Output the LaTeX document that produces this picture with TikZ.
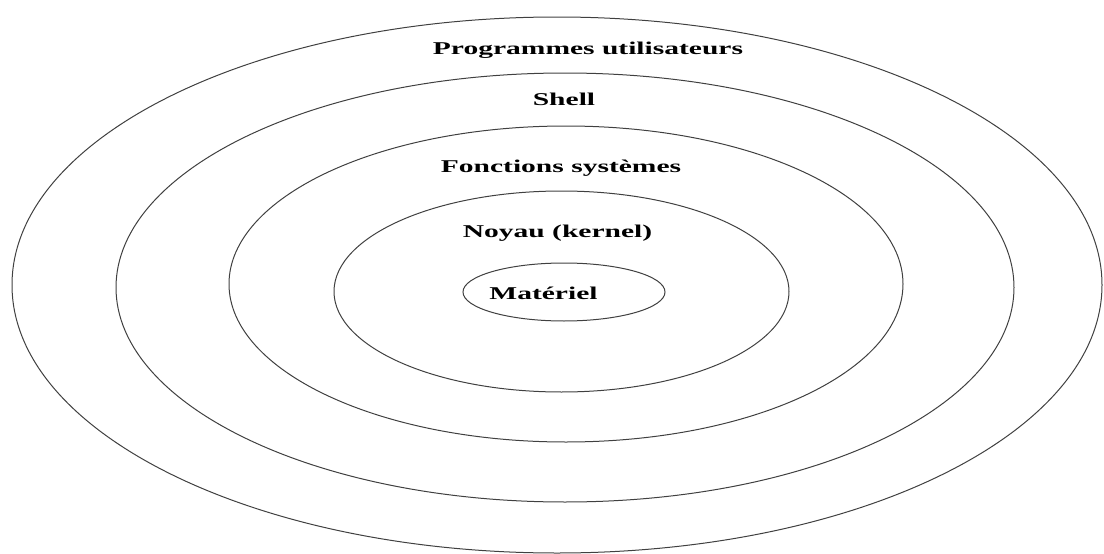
\documentclass[tikz,border=0pt]{standalone}
\usepackage{fontspec}
\setmainfont{Liberation Serif}
\usetikzlibrary{shapes.geometric}
\newcommand{\layertext}[1]{\scalebox{1.64}[1]{\bfseries #1}}

\begin{document}
\begin{tikzpicture}[x=1pt,y=-1pt,every node/.style={font=\fontsize{18}{20}\selectfont,inner sep=0pt},ring/.style={draw=black!75,line width=1pt,ellipse}]
\useasboundingbox (0,0) rectangle (1104,554);
% layers, outer to inner
\node[ring,minimum width=1090pt,minimum height=536pt] (prog) at (557,285) {};
\node[ring,minimum width=898pt,minimum height=429pt] (shell) at (565,287.5) {};
\node[ring,minimum width=674pt,minimum height=316pt] (fonct) at (566,284) {};
\node[ring,minimum width=455pt,minimum height=201pt] (noyau) at (561.5,291.5) {};
\node[ring,minimum width=202pt,minimum height=58pt] (mat) at (564,292) {};
% labels
\node[anchor=base] (progtxt) at (588,54) {\layertext{Programmes utilisateurs}};
\node[anchor=base] (shelltxt) at (564,105) {\layertext{Shell}};
\node[anchor=base] (foncttxt) at (561,172) {\layertext{Fonctions systèmes}};
\node[anchor=base] (noyautxt) at (557.5,237) {\layertext{Noyau (kernel)}};
\node[anchor=base] (mattxt) at (543.5,299) {\layertext{Matériel}};
\end{tikzpicture}
\end{document}
